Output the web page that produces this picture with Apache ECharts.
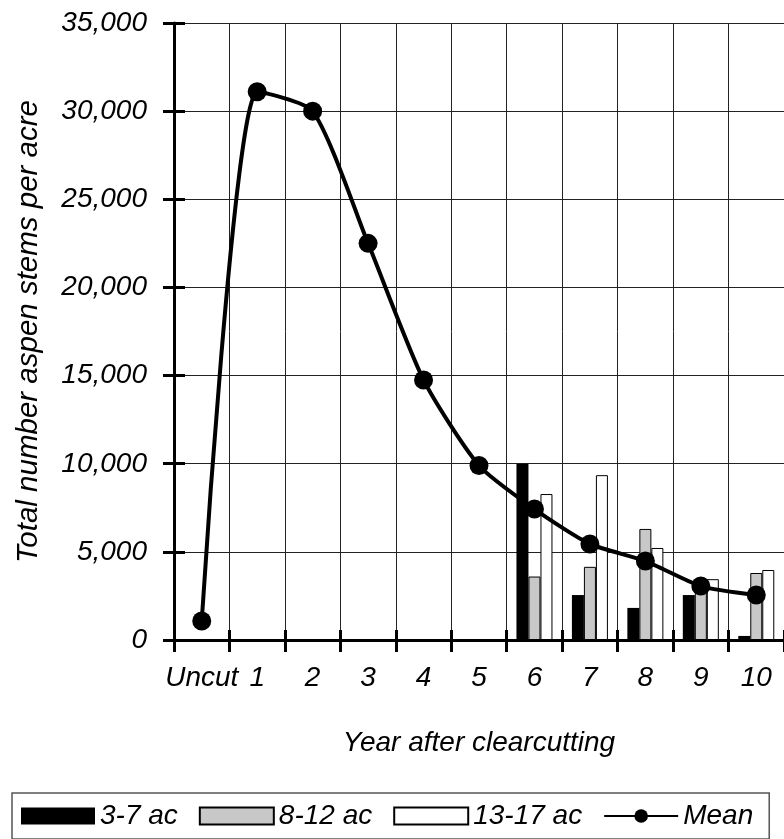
<!DOCTYPE html>
<html>
<head>
<meta charset="utf-8">
<style>
  html, body { margin: 0; padding: 0; background: #fff; }
  #chart { width: 784px; height: 839px; }
</style>
<script src="https://cdn.jsdelivr.net/npm/echarts@6/dist/echarts.min.js"></script>
</head>
<body>
<div id="chart"></div>
<script>
// ---- data ----
const categories = ['Uncut', '1', '2', '3', '4', '5', '6', '7', '8', '9', '10'];
const small37   = [null, null, null, null, null, null, 10000, 2550, 1820, 2550, 230];
const mid812    = [null, null, null, null, null, null, 3600, 4150, 6300, 3300, 3800];
const large1317 = [null, null, null, null, null, null, 8280, 9350, 5220, 3450, 3970];
const meanVals  = [1080, 31100, 30000, 22500, 14750, 9900, 7430, 5450, 4480, 3060, 2550];
const yTicks    = [0, 5000, 10000, 15000, 20000, 25000, 30000, 35000];

// ---- font detection (narrow face if available) ----
function hasFont(f) {
  const ctx = document.createElement('canvas').getContext('2d');
  const s = 'Year after clearcutting 35,000';
  ctx.font = '40px monospace';
  const a = ctx.measureText(s).width;
  ctx.font = "40px '" + f + "', monospace";
  const b = ctx.measureText(s).width;
  return Math.abs(a - b) > 0.5;
}
const narrow = hasFont('Liberation Sans Narrow');
const FONT = narrow ? "'Liberation Sans Narrow'" : "'Liberation Sans'";
const FS = narrow ? 34 : 28;
const FS_TITLE = narrow ? 36 : 29.5;

const chart = echarts.init(document.getElementById('chart'), null, { renderer: 'canvas' });

const txt = (size) => ({ fontFamily: FONT, fontStyle: 'italic', fontSize: size, color: '#000' });

const option = {
  backgroundColor: '#fff',
  animation: false,
  textStyle: { fontFamily: FONT, fontStyle: 'italic' },
  grid: { left: 174, right: 0, top: 23, bottom: 199, containLabel: false },
  legend: {
    left: 12, top: 793,
    padding: [8, 16, 8, 9],
    borderColor: '#555', borderWidth: 1.5,
    itemWidth: 74, itemHeight: 17, itemGap: 21,
    textStyle: Object.assign(txt(FS), { lineHeight: 30 }),
    data: [
      { name: '3-7 ac', icon: 'rect' },
      { name: '8-12 ac', icon: 'rect' },
      { name: '13-17 ac', icon: 'rect' },
      { name: 'Mean' }
    ]
  },
  xAxis: [
    {
      type: 'category', data: categories, boundaryGap: true,
      name: 'Year after clearcutting', nameLocation: 'middle', nameGap: 89,
      nameTextStyle: txt(FS),
      axisLine: { show: true, lineStyle: { color: '#000', width: 3 } },
      axisTick: { show: true, inside: false, length: 12, interval: 0, lineStyle: { color: '#000', width: 3 } },
      axisLabel: Object.assign(txt(FS), { interval: 0, margin: 24 }),
      splitLine: { show: true, interval: 0, lineStyle: { color: '#222', width: 1 } }
    },
    {
      type: 'category', data: categories, boundaryGap: true, position: 'bottom',
      axisLine: { show: false },
      axisTick: { show: true, inside: true, length: 10, interval: 0, lineStyle: { color: '#000', width: 3 } },
      axisLabel: { show: false },
      splitLine: { show: false }
    }
  ],
  yAxis: [
    {
      type: 'value', min: 0, max: 35000, interval: 5000,
      name: 'Total number aspen stems per acre', nameLocation: 'middle', nameRotate: 90, nameGap: 130,
      nameTextStyle: txt(FS_TITLE),
      axisLine: { show: true, lineStyle: { color: '#000', width: 3 } },
      axisTick: { show: true, inside: false, length: 11, lineStyle: { color: '#000', width: 3 } },
      axisLabel: Object.assign(txt(FS), {
        margin: 27,
        formatter: (v) => yTicks.indexOf(v) >= 0 ? v.toLocaleString('en-US') : ''
      }),
      splitLine: { show: true, lineStyle: { color: '#222', width: 1 } }
    },
    {
      type: 'value', min: 0, max: 35000, interval: 5000, position: 'left',
      axisLine: { show: false },
      axisTick: { show: true, inside: true, length: 11, lineStyle: { color: '#000', width: 3 } },
      axisLabel: { show: false },
      splitLine: { show: false }
    }
  ],
  series: [
    {
      name: '3-7 ac', type: 'bar', data: small37, barWidth: 12, barGap: '0%',
      itemStyle: { color: '#000', borderColor: '#000', borderWidth: 0 }, z: 2
    },
    {
      name: '8-12 ac', type: 'bar', data: mid812, barWidth: 12, barGap: '0%',
      itemStyle: { color: '#c8c8c8', borderColor: '#000', borderWidth: 1 }, z: 2
    },
    {
      name: '13-17 ac', type: 'bar', data: large1317, barWidth: 12, barGap: '0%',
      itemStyle: { color: '#fff', borderColor: '#000', borderWidth: 1 }, z: 2
    },
    {
      name: 'Mean', type: 'line', data: meanVals, smooth: 0.22,
      symbol: 'circle', symbolSize: 19, showSymbol: true,
      lineStyle: { color: '#000', width: 4 },
      itemStyle: { color: '#000' }, z: 5
    }
  ]
};
chart.setOption(option);
</script>
</body>
</html>
